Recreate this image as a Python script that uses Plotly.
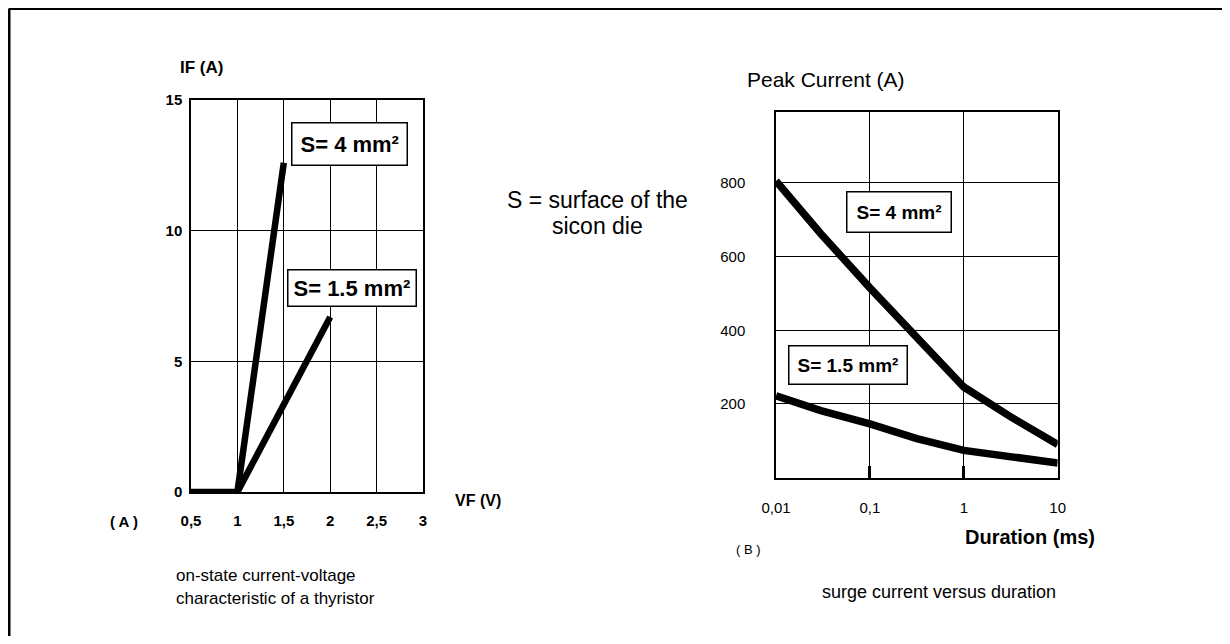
import plotly.graph_objects as go

# ---- data: left chart (on-state characteristic) ----
vf_4mm = [0.5, 1.0, 1.5]
if_4mm = [0, 0, 12.6]
vf_15mm = [1.0, 1.5, 2.0]
if_15mm = [0, 3.3, 6.7]
vf_ticks = [0.5, 1, 1.5, 2, 2.5, 3]
vf_ticktext = ["0,5", "1", "1,5", "2", "2,5", "3"]
if_ticks = [0, 5, 10, 15]

# ---- data: right chart (surge current vs duration) ----
duration = [0.01, 0.03, 0.1, 0.316, 1, 3.16, 10]
peak_4mm = [805, 662, 515, 383, 246, 165, 90]
peak_15mm = [222, 182, 146, 106, 74, 58, 40]
dur_ticks = [0.01, 0.1, 1, 10]
dur_ticktext = ["0,01", "0,1", "1", "10"]
peak_ticks = [200, 400, 600, 800]

# page body has an 8px margin: figure is sized to fill the rest of the window
OFF = 8
W, H = 1230 - 2 * OFF, 644 - 2 * OFF
BOLDN = "Liberation Sans Narrow, Arial Narrow, Liberation Sans, Arial"
SANS = "Liberation Sans, Arial, sans-serif"

fig = go.Figure()
line_l = dict(color="black", width=6.5)
fig.add_trace(go.Scatter(x=vf_4mm, y=if_4mm, mode="lines", line=line_l,
                         xaxis="x", yaxis="y", showlegend=False))
fig.add_trace(go.Scatter(x=vf_15mm, y=if_15mm, mode="lines", line=line_l,
                         xaxis="x", yaxis="y", showlegend=False))
line_r = dict(color="black", width=7.5)
fig.add_trace(go.Scatter(x=duration, y=peak_4mm, mode="lines", line=line_r,
                         xaxis="x2", yaxis="y2", showlegend=False))
fig.add_trace(go.Scatter(x=duration, y=peak_15mm, mode="lines", line=line_r,
                         xaxis="x2", yaxis="y2", showlegend=False))

def px(x):
    return (x - OFF) / W

def py(y):
    return 1 - (y - OFF) / H

grid = dict(showgrid=True, gridcolor="black", gridwidth=1, zeroline=False,
            showline=True, linecolor="black", linewidth=1.5, mirror=True,
            fixedrange=True, automargin=False)

fig.update_layout(
    template="none",
    width=W, height=H,
    margin=dict(l=0, r=0, t=0, b=0, pad=0, autoexpand=False),
    paper_bgcolor="white", plot_bgcolor="white",
    xaxis=dict(domain=[px(191), px(423)], range=[0.5, 3], tickvals=vf_ticks,
               ticktext=vf_ticktext, anchor="y", ticks="", ticklabelstandoff=14,
               tickfont=dict(family=BOLDN, size=15, color="black", weight="bold"),
               **grid),
    yaxis=dict(domain=[py(492), py(100)], range=[0, 15], tickvals=if_ticks,
               anchor="x", ticks="", ticklabelstandoff=4,
               tickfont=dict(family=BOLDN, size=15, color="black", weight="bold"),
               **grid),
    xaxis2=dict(domain=[px(776), px(1057.7)], type="log", range=[-2, 1],
                tickvals=dur_ticks, ticktext=dur_ticktext, anchor="y2",
                ticks="inside", ticklen=12, tickwidth=3, tickcolor="black",
                ticklabelstandoff=16,
                tickfont=dict(family=SANS, size=15, color="black"), **grid),
    yaxis2=dict(domain=[py(477.7), py(111.7)], range=[0, 993], tickvals=peak_ticks,
                anchor="x2", ticks="", ticklabelstandoff=26,
                tickfont=dict(family=SANS, size=15, color="black"), **grid),
)

ann = []
def txt(x, y, t, size=15, fam=SANS, bold=False, xanchor="center", yanchor="middle"):
    ann.append(dict(x=px(x), y=py(y), xref="paper", yref="paper", text=t,
                    showarrow=False, xanchor=xanchor, yanchor=yanchor,
                    font=dict(family=fam, size=size, color="black",
                              weight="bold" if bold else "normal")))

txt(201, 67, "IF (A)", size=17, fam=BOLDN, bold=True)
txt(478, 500, "VF (V)", size=16, fam=BOLDN, bold=True)
txt(124, 521, "( A )", size=15, fam=BOLDN, bold=True)
txt(597, 200, "S = surface of the", size=23)
txt(597, 226, "sicon die", size=23)
txt(826, 79, "Peak Current (A)", size=21, fam=BOLDN)
txt(1030, 537, "Duration (ms)", size=20, fam=SANS, bold=True)
txt(748, 549, "( B )", size=13)
txt(174, 575, "on-state current-voltage", size=17, xanchor="left")
txt(174, 598, "characteristic of a thyristor", size=17, xanchor="left")
txt(939, 592, "surge current versus duration", size=18)

box = dict(showarrow=False, bordercolor="black", borderwidth=1.5,
           bgcolor="white", xanchor="center", yanchor="middle")
ann.append(dict(x=2.21, y=13.3, xref="x", yref="y", text="S= 4 mm²",
                font=dict(family=BOLDN, size=22, color="black", weight="bold"),
                borderpad=8, **box))
ann.append(dict(x=2.24, y=7.8, xref="x", yref="y", text="S= 1.5 mm²",
                font=dict(family=BOLDN, size=22, color="black", weight="bold"),
                borderpad=5, **box))
ann.append(dict(x=-0.695, y=721, xref="x2", yref="y2", text="S= 4 mm²",
                font=dict(family=SANS, size=19, color="black", weight="bold"),
                borderpad=9, **box))
ann.append(dict(x=-1.228, y=305, xref="x2", yref="y2", text="S= 1.5 mm²",
                font=dict(family=SANS, size=19, color="black", weight="bold"),
                borderpad=8, **box))
fig.update_layout(annotations=ann)

# outer frame (left and top edges visible)
fig.update_layout(shapes=[
    dict(type="line", xref="paper", yref="paper", x0=px(9), x1=1.02, y0=py(8.5), y1=py(8.5),
         line=dict(color="black", width=3)),
    dict(type="line", xref="paper", yref="paper", x0=px(9), x1=px(9), y0=py(8.5), y1=-0.02,
         line=dict(color="black", width=3)),
])

fig.write_html("out.html")
